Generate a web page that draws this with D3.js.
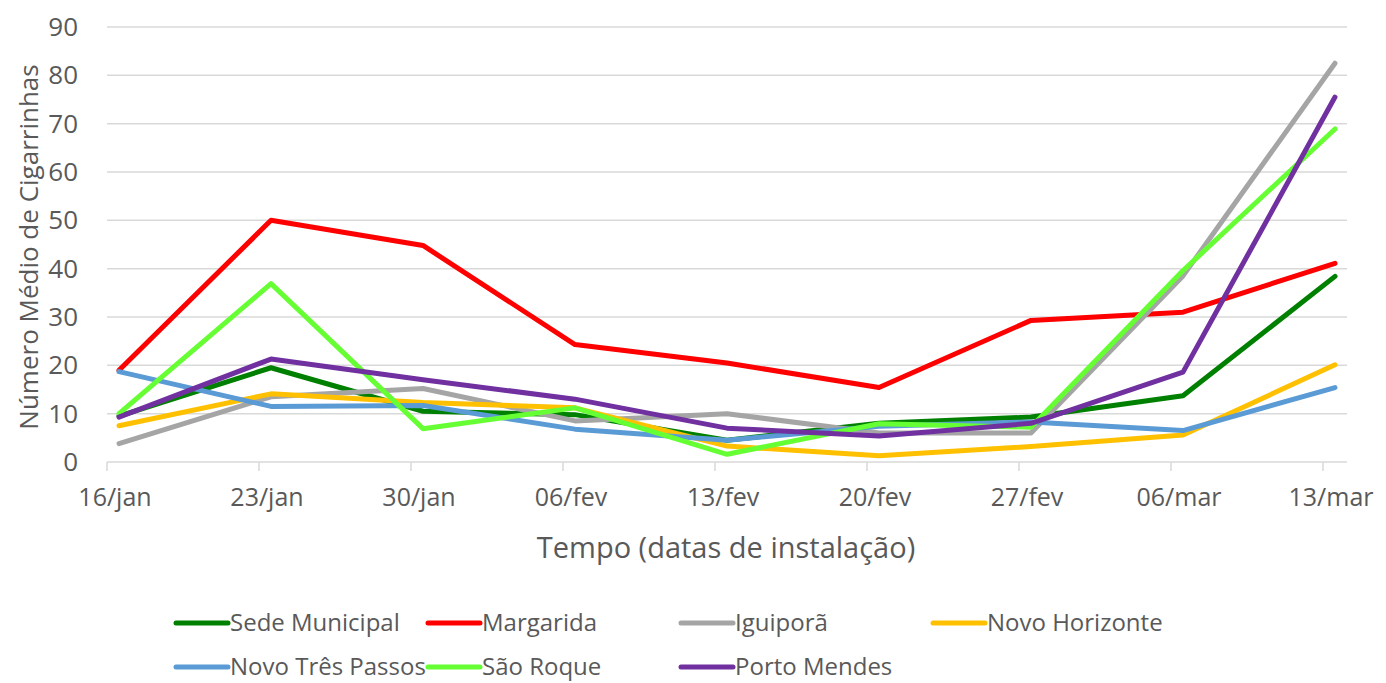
<!DOCTYPE html>
<html>
<head>
<meta charset="utf-8">
<script src="https://cdn.jsdelivr.net/npm/d3@7"></script>
<style>
  body { margin: 0; background: #fff; }
  svg text { font-family: "Open Sans", sans-serif; fill: #595959; }
</style>
</head>
<body>
<svg id="chart" width="1386" height="683"></svg>
<script>
// categories (installation dates)
const dates = ["16/jan", "23/jan", "30/jan", "06/fev", "13/fev", "20/fev", "27/fev", "06/mar", "13/mar"];
const yTicks = [0, 10, 20, 30, 40, 50, 60, 70, 80, 90];

// mean leafhopper counts per site
const sedeMunicipal   = [9.5, 19.5, 10.5, 9.8, 4.5, 8.0, 9.3, 13.7, 38.4];
const margarida       = [19.0, 50.0, 44.8, 24.3, 20.5, 15.4, 29.3, 31.0, 41.1];
const iguipora        = [3.8, 13.5, 15.2, 8.5, 10.0, 6.0, 6.0, 38.5, 82.5];
const novoHorizonte   = [7.5, 14.1, 12.3, 11.2, 3.3, 1.3, 3.2, 5.6, 20.1];
const novoTresPassos  = [18.7, 11.5, 11.7, 6.8, 4.5, 7.4, 8.3, 6.5, 15.4];
const saoRoque        = [10.0, 36.9, 6.9, 11.2, 1.6, 7.9, 7.2, 39.6, 68.9];
const portoMendes     = [9.3, 21.3, 17.0, 13.0, 7.0, 5.4, 8.0, 18.6, 75.5];

const series = [
    { name: "Sede Municipal", values: sedeMunicipal, color: "#008000" },
    { name: "Margarida", values: margarida, color: "#FF0000" },
    { name: "Iguiporã", values: iguipora, color: "#A5A5A5" },
    { name: "Novo Horizonte", values: novoHorizonte, color: "#FFC000" },
    { name: "Novo Três Passos", values: novoTresPassos, color: "#5B9BD5" },
    { name: "São Roque", values: saoRoque, color: "#66FF33" },
    { name: "Porto Mendes", values: portoMendes, color: "#7030A0" }
];

const svg = d3.select("#chart");
const plotLeft = 107, plotRight = 1347, plotTop = 27, plotBottom = 462;

const x = d3.scalePoint().domain(dates).range([119, 1335]);
const y = d3.scaleLinear().domain([0, 90]).range([plotBottom, plotTop]);

// gridlines
svg.append("g")
    .selectAll("line")
    .data(yTicks)
    .enter().append("line")
    .attr("x1", plotLeft)
    .attr("x2", plotRight)
    .attr("y1", d => y(d))
    .attr("y2", d => y(d))
    .attr("stroke", "#d9d9d9")
    .attr("stroke-width", 1.5);

// y tick labels
svg.append("g")
    .selectAll("text")
    .data(yTicks)
    .enter().append("text")
    .attr("x", 78)
    .attr("y", d => y(d))
    .attr("dy", "0.35em")
    .attr("text-anchor", "end")
    .attr("font-size", 26)
    .text(d => d);

// x tick marks (sit a little left of each date point)
svg.append("g")
    .selectAll("line")
    .data(dates)
    .enter().append("line")
    .attr("x1", d => x(d) - 12)
    .attr("x2", d => x(d) - 12)
    .attr("y1", plotBottom)
    .attr("y2", plotBottom + 9)
    .attr("stroke", "#d9d9d9")
    .attr("stroke-width", 1.5);

// x tick labels
svg.append("g")
    .selectAll("text")
    .data(dates)
    .enter().append("text")
    .attr("x", d => x(d) - 4)
    .attr("y", 506)
    .attr("text-anchor", "middle")
    .attr("font-size", 25)
    .text(d => d);

// axis titles
svg.append("text")
    .attr("x", 726)
    .attr("y", 558)
    .attr("text-anchor", "middle")
    .attr("font-size", 29)
    .text("Tempo (datas de instalação)");

svg.append("text")
    .attr("transform", "translate(38,247) rotate(-90)")
    .attr("text-anchor", "middle")
    .attr("font-size", 26)
    .text("Número Médio de Cigarrinhas");

// lines
const line = d3.line()
    .x((d, i) => x(dates[i]))
    .y(d => y(d));

svg.append("g")
    .selectAll("path")
    .data(series)
    .enter().append("path")
    .attr("d", d => line(d.values))
    .attr("fill", "none")
    .attr("stroke", d => d.color)
    .attr("stroke-width", 5)
    .attr("stroke-linejoin", "round")
    .attr("stroke-linecap", "round");

// legend
const legendPos = [
    [176, 623], [428, 623], [681, 623], [933, 623],
    [176, 667], [428, 667], [681, 667]
];
const legend = svg.append("g")
    .selectAll("g")
    .data(series)
    .enter().append("g")
    .attr("transform", (d, i) => `translate(${legendPos[i][0]},${legendPos[i][1]})`);

legend.append("line")
    .attr("x1", 0)
    .attr("x2", 52)
    .attr("stroke", d => d.color)
    .attr("stroke-width", 5)
    .attr("stroke-linecap", "round");

legend.append("text")
    .attr("x", 54)
    .attr("dy", "0.35em")
    .attr("font-size", 24)
    .text(d => d.name);
</script>
</body>
</html>
